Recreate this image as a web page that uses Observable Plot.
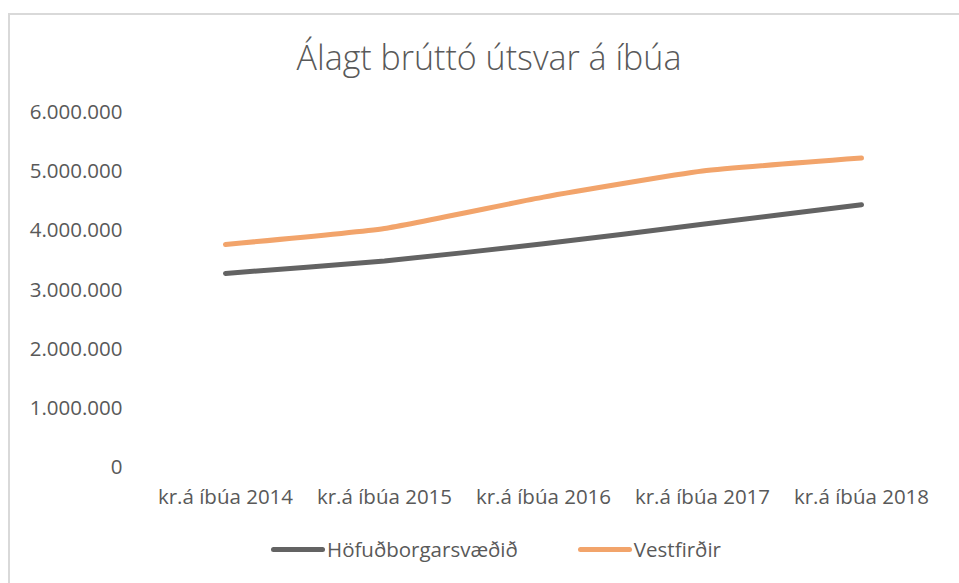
<!DOCTYPE html>
<html>
<head>
<meta charset="utf-8">
<script src="https://cdn.jsdelivr.net/npm/d3@7"></script>
<script src="https://cdn.jsdelivr.net/npm/@observablehq/plot@0.6"></script>
<style>
  body { margin: 0; background: #fff; }
  #wrap { position: relative; width: 959px; height: 583px; overflow: hidden; font-family: "Open Sans", sans-serif; color: #595959; }
  #frame { position: absolute; left: 8px; top: 13px; width: 1000px; height: 700px; border: 2px solid #d9d9d9; box-sizing: border-box; }
  #title { position: absolute; left: 0; width: 978px; top: 34px; text-align: center; font-size: 34px; font-weight: 300; }
  #chart { position: absolute; left: 0; top: 90px; }
  #legend { position: absolute; top: 535px; left: 0; width: 992px; display: flex; justify-content: center; gap: 60px; font-size: 20.5px; }
  .item { display: flex; align-items: center; }
  .sw { width: 54px; height: 5px; border-radius: 3px; margin-right: 2px; }
</style>
</head>
<body>
<div id="wrap">
  <div id="frame"></div>
  <div id="title">Álagt brúttó útsvar á íbúa</div>
  <div id="chart"></div>
  <div id="legend"></div>
</div>
<script>
const categories = ["kr.á íbúa 2014", "kr.á íbúa 2015", "kr.á íbúa 2016", "kr.á íbúa 2017", "kr.á íbúa 2018"];
const seriesNames = ["Höfuðborgarsvæðið", "Vestfirðir"];
const hofudborgarsvaedid = [3280000, 3490000, 3780000, 4110000, 4440000];
const vestfirdir = [3770000, 4040000, 4570000, 5010000, 5230000];
const colors = ["#636363", "#F2A46B"];
const yTicks = [0, 1000000, 2000000, 3000000, 4000000, 5000000, 6000000];

const seriesValues = [hofudborgarsvaedid, vestfirdir];
const data = [];
seriesNames.forEach((s, i) => categories.forEach((c, j) => data.push({series: s, cat: c, value: seriesValues[i][j]})));

const fmt = d => d3.format(",")(d).replace(/,/g, ".");

const plot = Plot.plot({
  width: 959,
  height: 430,
  marginLeft: 145,
  marginRight: 19,
  marginTop: 22,
  marginBottom: 53,
  style: {fontFamily: "'Open Sans', sans-serif", fontSize: "20.5px", color: "#595959", background: "transparent"},
  x: {type: "point", domain: categories, padding: 0.5, label: null, tickSize: 0, tickPadding: 22},
  y: {domain: [0, 6000000], ticks: yTicks, tickFormat: fmt, label: null, tickSize: 0, tickPadding: 23},
  color: {domain: seriesNames, range: colors},
  marks: [
    Plot.gridY(yTicks, {stroke: "#d9d9d9", strokeOpacity: 1, strokeWidth: 1.5, x1: 145, x2: 940}),
    Plot.lineY(data, {x: "cat", y: "value", z: "series", stroke: "series", strokeWidth: 5, curve: "cardinal", tension: 0.55, strokeLinecap: "round"})
  ]
});
document.getElementById("chart").appendChild(plot);

const legend = document.getElementById("legend");
seriesNames.forEach((s, i) => {
  const it = document.createElement("div");
  it.className = "item";
  const sw = document.createElement("div");
  sw.className = "sw";
  sw.style.background = colors[i];
  const t = document.createElement("span");
  t.textContent = s;
  it.appendChild(sw);
  it.appendChild(t);
  legend.appendChild(it);
});
</script>
</body>
</html>
